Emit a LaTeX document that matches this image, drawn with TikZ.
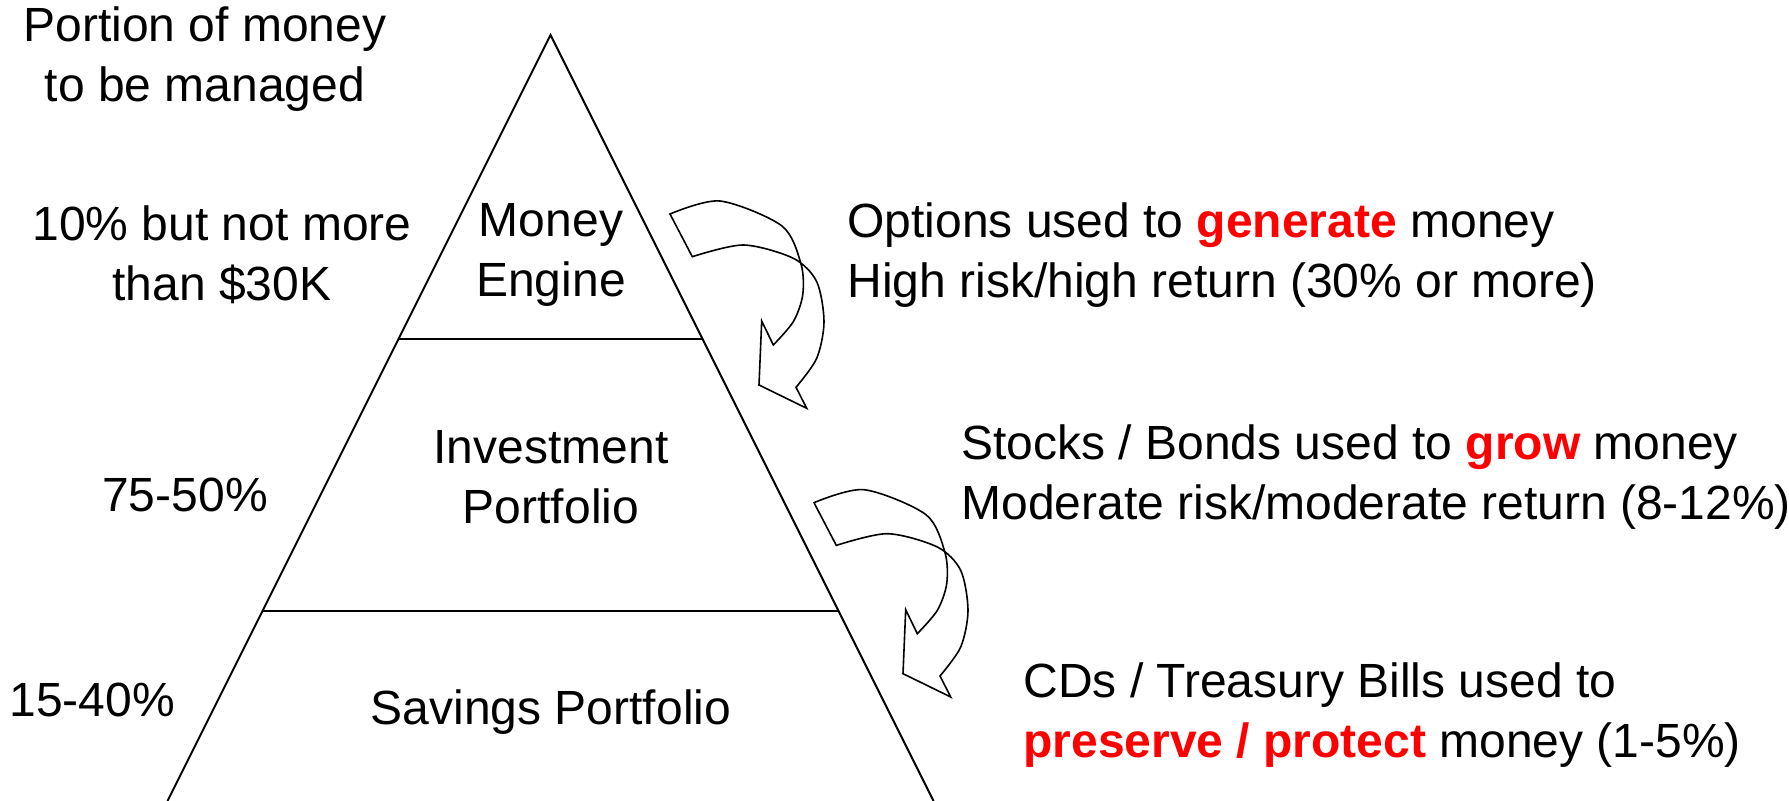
\documentclass[tikz,border=0pt]{standalone}
\usepackage{fontspec}
\setmainfont{Liberation Sans}
\usepackage{xcolor}
\usetikzlibrary{calc}
\tikzstyle{txt} = [font=\fontsize{24}{30}\selectfont, align=center, inner sep=0pt]
\tikzstyle{sidetxt} = [txt, align=left, anchor=west]
\tikzstyle{edge} = [draw, line width=1pt]
\tikzstyle{twistarrow} = [draw, fill=white, line width=0.8pt, line join=miter]
\newcommand{\hot}[1]{\textcolor{red}{\textbf{#1}}}
% twisted curved arrow, #1 = tail corner
\newcommand{\bendarrow}[1]{
\draw[twistarrow, shift={(#1)}]
	plot[smooth] coordinates {(22.3,42.7) (73.3,31) (123.3,44.3) (146.7,67.7) (154,107.7) (146.7,144.3) (126,173.3)}
	-- (136.7,194.3) -- (89,171) -- (91.7,107)
	-- plot[smooth] coordinates {(103.3,131) (123.3,107.7) (132.7,81) (131,50) (112,12) (50,-13) (0,0)}
	-- cycle;
}

\begin{document}
\begin{tikzpicture}[x=0.5pt,y=-0.5pt]
\useasboundingbox (0,0) rectangle (1789,801);

% pyramid
\coordinate (apex) at (550.5,35);
\coordinate (bl) at (167.5,801);
\coordinate (br) at (933.5,801);
\draw[edge] (bl) -- (apex) -- (br);
\draw[edge] ($(apex)!0.3969!(bl)$) -- ($(apex)!0.3969!(br)$);
\draw[edge] ($(apex)!0.752!(bl)$) -- ($(apex)!0.752!(br)$);

% levels
\node[txt] (engine) at (551,255) {Money\\Engine};
\node[txt] (invest) at (551,477) {Investment\\Portfolio};
\node[txt] (savings) at (551,712) {Savings Portfolio};

% portions
\node[txt] (portion) at (205,59) {Portion of money\\to be managed};
\node[txt] (pengine) at (222,255) {10\% but not more\\than \$30K};
\node[txt] (pinvest) at (185,495) {75-50\%};
\node[txt, anchor=west] (psavings) at (9,700) {15-40\%};

% uses
\node[sidetxt] (uengine) at (847,255) {Options used to \hot{generate} money\\High risk/high return (30\% or more)};
\node[sidetxt] (uinvest) at (961,477) {Stocks / Bonds used to \hot{grow} money\\Moderate risk/moderate return (8-12\%)};
\node[sidetxt] (usavings) at (1023,715) {CDs / Treasury Bills used to\\\hot{preserve / protect} money (1-5\%)};

% arrows
\bendarrow{670,214}
\bendarrow{814,502.7}
\end{tikzpicture}
\end{document}
